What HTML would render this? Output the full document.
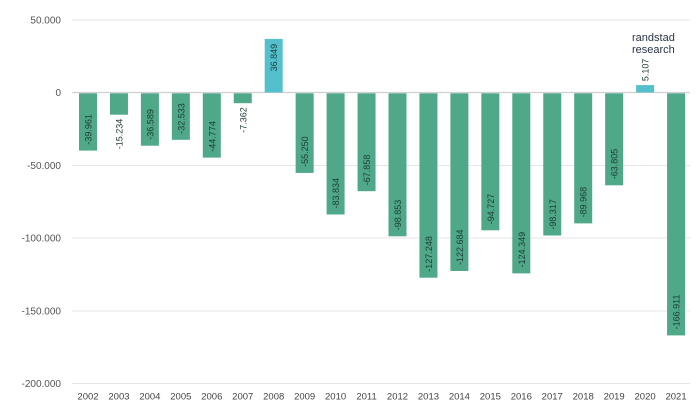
<!DOCTYPE html>
<html><head><meta charset="utf-8"><style>
html,body{margin:0;padding:0;background:#fff;}
svg{display:block;font-family:"Liberation Sans",sans-serif;}
</style></head><body>
<svg width="699" height="418" viewBox="0 0 699 418" xmlns="http://www.w3.org/2000/svg">
<g stroke="#e6e6e6" stroke-width="1">
<line x1="72" y1="20" x2="690" y2="20"/>
<line x1="72" y1="165.5" x2="690" y2="165.5"/>
<line x1="72" y1="238" x2="690" y2="238"/>
<line x1="72" y1="311" x2="690" y2="311"/>
<line x1="72" y1="383.5" x2="690" y2="383.5"/>
</g>
<line x1="72" y1="92.5" x2="690" y2="92.5" stroke="#cfcfcf" stroke-width="1.2"/>
<g fill="#555" font-size="10" text-anchor="end">
<text x="61" y="23.5">50.000</text>
<text x="61" y="96">0</text>
<text x="61" y="169">-50.000</text>
<text x="61" y="241.5">-100.000</text>
<text x="61" y="314.5">-150.000</text>
<text x="61" y="387">-200.000</text>
</g>
<g fill="#4fa887">
<rect x="79" y="93.3" width="18" height="57.3"/>
<rect x="109.95" y="93.3" width="18" height="21.4"/>
<rect x="140.9" y="93.3" width="18" height="52.4"/>
<rect x="171.85" y="93.3" width="18" height="46.5"/>
<rect x="202.8" y="93.3" width="18" height="64.3"/>
<rect x="233.75" y="93.3" width="18" height="9.9"/>
<rect x="295.65" y="93.3" width="18" height="79.6"/>
<rect x="326.6" y="93.3" width="18" height="121.2"/>
<rect x="357.55" y="93.3" width="18" height="97.9"/>
<rect x="388.5" y="93.3" width="18" height="143"/>
<rect x="419.45" y="93.3" width="18" height="184.4"/>
<rect x="450.4" y="93.3" width="18" height="177.7"/>
<rect x="481.35" y="93.3" width="18" height="137"/>
<rect x="512.3" y="93.3" width="18" height="180.1"/>
<rect x="543.25" y="93.3" width="18" height="142.2"/>
<rect x="574.2" y="93.3" width="18" height="130.1"/>
<rect x="605.15" y="93.3" width="18" height="92"/>
<rect x="667.05" y="93.3" width="18" height="242.1"/>
</g>
<g fill="#55c0cd">
<rect x="264.7" y="38.9" width="18" height="53.6"/>
<rect x="636.1" y="85.1" width="18" height="7.4"/>
</g>
<g font-size="9" fill="#1d3b38">
<text text-anchor="start" transform="translate(91.5,144.6) rotate(-90)">-39.961</text>
<text text-anchor="end" transform="translate(122.45,118.7) rotate(-90)">-15.234</text>
<text text-anchor="start" transform="translate(153.4,139.7) rotate(-90)">-36.589</text>
<text text-anchor="start" transform="translate(184.35,133.8) rotate(-90)">-32.533</text>
<text text-anchor="start" transform="translate(215.3,151.7) rotate(-90)">-44.774</text>
<text text-anchor="end" transform="translate(246.25,107.2) rotate(-90)">-7.362</text>
<text text-anchor="end" transform="translate(277.2,43.9) rotate(-90)">36.849</text>
<text text-anchor="start" transform="translate(308.15,166.9) rotate(-90)">-55.250</text>
<text text-anchor="start" transform="translate(339.1,208.5) rotate(-90)">-83.834</text>
<text text-anchor="start" transform="translate(370.05,185.2) rotate(-90)">-67.858</text>
<text text-anchor="start" transform="translate(401,230.3) rotate(-90)">-98.853</text>
<text text-anchor="start" transform="translate(431.95,271.7) rotate(-90)">-127.248</text>
<text text-anchor="start" transform="translate(462.9,265) rotate(-90)">-122.684</text>
<text text-anchor="start" transform="translate(493.85,224.3) rotate(-90)">-94.727</text>
<text text-anchor="start" transform="translate(524.8,267.4) rotate(-90)">-124.349</text>
<text text-anchor="start" transform="translate(555.75,229.6) rotate(-90)">-98.317</text>
<text text-anchor="start" transform="translate(586.7,217.4) rotate(-90)">-89.968</text>
<text text-anchor="start" transform="translate(617.65,179.3) rotate(-90)">-63.805</text>
<text text-anchor="start" transform="translate(648.6,81.1) rotate(-90)">5.107</text>
<text text-anchor="start" transform="translate(679.55,329.4) rotate(-90)">-166.911</text>
</g>
<g font-size="9.5" fill="#444" text-anchor="middle">
<text x="88" y="399.5">2002</text>
<text x="118.95" y="399.5">2003</text>
<text x="149.9" y="399.5">2004</text>
<text x="180.85" y="399.5">2005</text>
<text x="211.8" y="399.5">2006</text>
<text x="242.75" y="399.5">2007</text>
<text x="273.7" y="399.5">2008</text>
<text x="304.65" y="399.5">2009</text>
<text x="335.6" y="399.5">2010</text>
<text x="366.55" y="399.5">2011</text>
<text x="397.5" y="399.5">2012</text>
<text x="428.45" y="399.5">2013</text>
<text x="459.4" y="399.5">2014</text>
<text x="490.35" y="399.5">2015</text>
<text x="521.3" y="399.5">2016</text>
<text x="552.25" y="399.5">2017</text>
<text x="583.2" y="399.5">2018</text>
<text x="614.15" y="399.5">2019</text>
<text x="645.1" y="399.5">2020</text>
<text x="676.05" y="399.5">2021</text>
</g>
<text x="632" y="41" font-size="11" fill="#2a3347">randstad</text>
<text x="632" y="53" font-size="11" fill="#2a3347">research</text>
</svg>
</body></html>
